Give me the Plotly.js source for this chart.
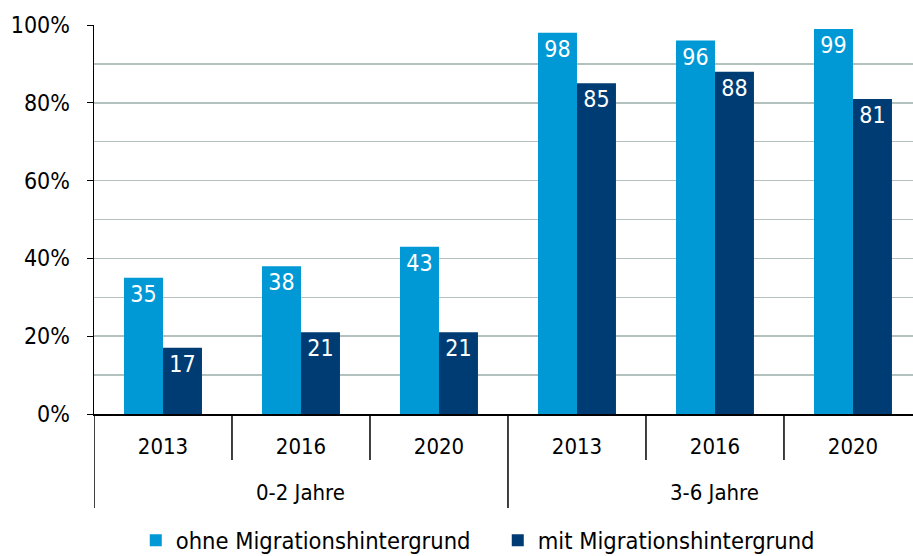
<!DOCTYPE html>
<html><head><meta charset="utf-8">
<script src="https://cdn.plot.ly/plotly-3.0.1.min.js"></script>
<style>html,body{margin:0;padding:0;background:#fff;overflow:hidden}</style>
</head><body><div id="chart" style="width:913px;height:556px"></div>
<script>
const groups = ["0-2 Jahre","0-2 Jahre","0-2 Jahre","3-6 Jahre","3-6 Jahre","3-6 Jahre"];
const years = ["2013","2016","2020","2013","2016","2020"];
const ohne = [35, 38, 43, 98, 96, 99];
const mit = [17, 21, 21, 85, 88, 81];
const seriesNames = ["ohne Migrationshintergrund","mit Migrationshintergrund"];
const yTicks = [0,20,40,60,80,100];
const yTickText = yTicks.map(v => v + "%");

const FONT = "DejaVu Sans Condensed, DejaVu Sans, sans-serif";
const keys = groups.map((g, i) => g + "|" + years[i]);
const mk = (vals, name, color) => ({
  type: "bar", name: name, x: keys, y: vals,
  text: vals.map(String), textposition: "inside", insidetextanchor: "end",
  textfont: {color: "#ffffff", size: 23, family: FONT},
  marker: {color: color}, cliponaxis: false, hoverinfo: "skip"
});
const data = [mk(ohne, seriesNames[0], "#0099d5"), mk(mit, seriesNames[1], "#003c74")];

// axis dividers (structure derived from categories)
const plotH = 556 - 25 - 142;
const yearTickBottom = -46 / plotH;
const groupTickBottom = -94 / plotH;
const shapes = [];
const annotations = [];
const uniqueGroups = [...new Set(groups)];
keys.forEach((k, i) => {
  const isGroupStart = i === 0 || groups[i] !== groups[i - 1];
  shapes.push({type: "line", xref: "x", yref: "paper", x0: i - 0.5, x1: i - 0.5,
    y0: 0, y1: isGroupStart ? groupTickBottom : yearTickBottom, line: {color: "#000", width: 1.5}});
});
uniqueGroups.forEach(g => {
  const idx = groups.map((v, i) => v === g ? i : -1).filter(i => i >= 0);
  const mid = (idx[0] + idx[idx.length - 1]) / 2;
  annotations.push({xref: "x", yref: "paper", x: mid, y: -78 / plotH, yanchor: "middle",
    text: g, showarrow: false, font: {size: 22, family: FONT, color: "#000"}});
});

const layout = {
  width: 913, height: 556,
  margin: {l: 94, r: 0, t: 25, b: 142},
  font: {family: FONT, size: 22, color: "#000"},
  barmode: "group", bargap: 0.435, bargroupgap: 0,
  plot_bgcolor: "#fff", paper_bgcolor: "#fff",
  showlegend: true,
  legend: {orientation: "h", xref: "paper", x: 0.051, xanchor: "left", yref: "container", y: 0.028, yanchor: "middle",
           font: {size: 23.5, family: FONT}, itemwidth: 30, traceorder: "normal",
           entrywidth: 317, entrywidthmode: "pixels"},
  xaxis: {type: "category", range: [-0.5, 5.435], tickvals: keys, ticktext: years,
          showline: true, linecolor: "#000", linewidth: 1.5,
          ticks: "", ticklabelstandoff: 12,
          tickfont: {size: 22, family: FONT}, showgrid: false},
  yaxis: {range: [0, 100], tickvals: yTicks, ticktext: yTickText, showline: true, linecolor: "#000", linewidth: 1.5,
          ticks: "outside", ticklen: 6, tickcolor: "#000", showgrid: true, gridcolor: "#b3c1bf", gridwidth: 1.5,
          minor: {dtick: 10, showgrid: true, gridcolor: "#b3c1bf", gridwidth: 1.5, ticks: ""},
          zeroline: false, ticklabelstandoff: 12, tickfont: {size: 23, family: FONT}},
  shapes: shapes,
  annotations: annotations
};
Plotly.newPlot("chart", data, layout, {displayModeBar: false, staticPlot: true});
</script></body></html>
